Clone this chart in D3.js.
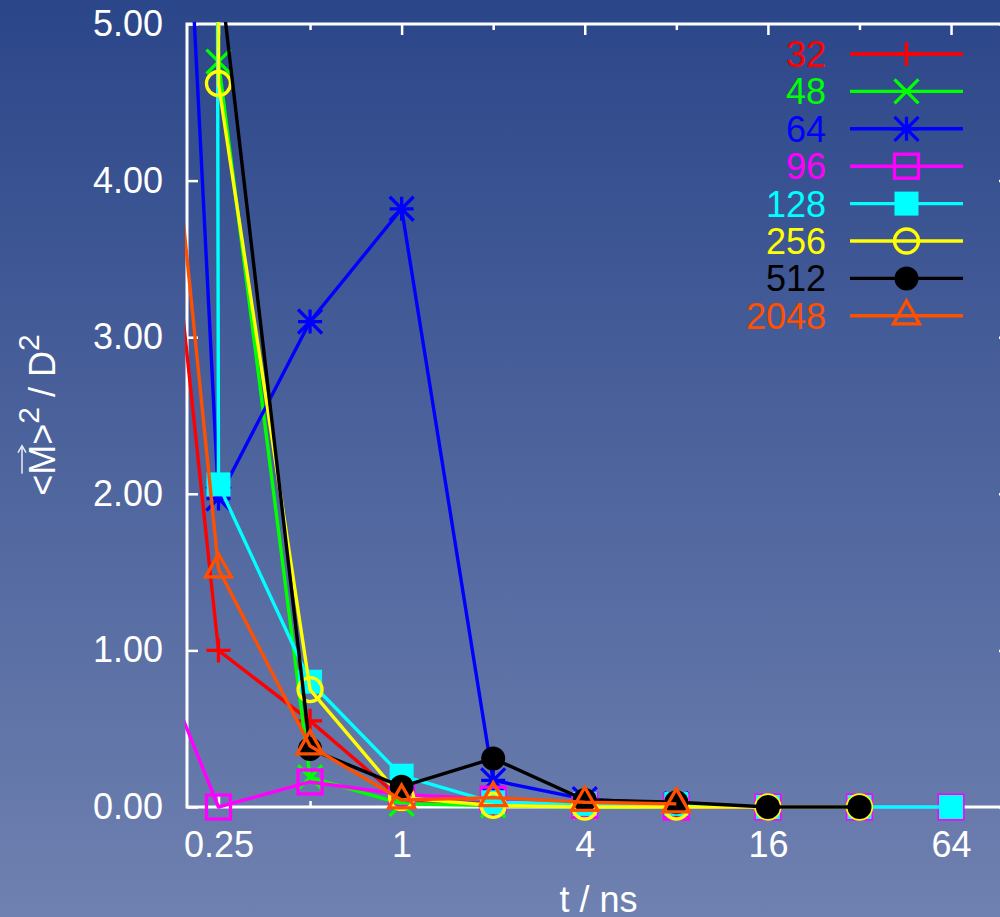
<!DOCTYPE html>
<html>
<head>
<meta charset="utf-8">
<script src="https://cdn.jsdelivr.net/npm/d3@7"></script>
<style>
  html, body { margin: 0; padding: 0; background: #2c488a; }
  svg { display: block; }
  text { font-family: "Liberation Sans", Arial, Helvetica, sans-serif; }
</style>
</head>
<body>
<svg id="chart" width="1000" height="917"></svg>
<script>
// Sampling times (ns); the first point lies left of the visible range
const times = [0.125, 0.25, 0.5, 1, 2, 4, 8, 16, 32, 64];

// <M>^2 / D^2 for each system size
const seriesNames = ["32", "48", "64", "96", "128", "256", "512", "2048"];
const v32   = [6.5, 1.00, 0.55, 0.05, 0.02, 0.01, 0.00];
const v48   = [900, 4.76, 0.19, 0.02, 0.01, 0.00, 0.00];
const v64   = [13.5, 1.97, 3.10, 3.82, 0.17, 0.05, 0.02];
const v96   = [1.45, 0.00, 0.16, 0.08, 0.05, 0.01, 0.00, 0.00, 0.00, 0.00];
const v128  = [300, 2.06, 0.80, 0.20, 0.03, 0.02, 0.02, 0.00, 0.00, 0.00];
const v256  = [1500, 4.62, 0.75, 0.06, 0.01, 0.00, 0.00, 0.00, 0.00];
const v512  = [1500, 5.40, 0.37, 0.13, 0.31, 0.045, 0.03, 0.00, 0.00];
const v2048 = [7.3, 1.52, 0.39, 0.045, 0.06, 0.03, 0.02];
const seriesValues = [v32, v48, v64, v96, v128, v256, v512, v2048];

const seriesColors = ["#ff0000", "#00ff00", "#0000ff", "#ff00ff", "#00ffff", "#ffff00", "#000000", "#ff5000"];
const seriesSymbols = ["plus", "cross", "star", "square", "squareFilled", "circle", "circleFilled", "triangle"];

// Axis ticks
const xMajorTicks = [0.25, 1, 4, 16, 64];
const xMajorLabels = ["0.25", "1", "4", "16", "64"];
const xMinorTicks = [0.5, 2, 8, 32];
const yTicks = [0, 1, 2, 3, 4, 5];
const yTickLabels = ["0.00", "1.00", "2.00", "3.00", "4.00", "5.00"];

const W = 1000, H = 917;
const plot = { left: 187, right: 1010, top: 24, bottom: 807 };

const svg = d3.select("#chart");

// Background gradient
const defs = svg.append("defs");
const grad = defs.append("linearGradient")
  .attr("id", "bg").attr("x1", 0).attr("y1", 0).attr("x2", 0).attr("y2", 1);
grad.append("stop").attr("offset", "0%").attr("stop-color", "#2b4689");
grad.append("stop").attr("offset", "100%").attr("stop-color", "#6f81b0");
svg.append("rect").attr("width", W).attr("height", H).attr("fill", "url(#bg)");

defs.append("clipPath").attr("id", "plotClip")
  .append("rect")
  .attr("x", plot.left - 2).attr("y", plot.top - 2)
  .attr("width", plot.right - plot.left + 4).attr("height", plot.bottom - plot.top + 4);

const x = d3.scaleLog().base(2).domain([0.2, 100]).range([plot.left + 2, plot.right]);
const y = d3.scaleLinear().domain([0, 5]).range([plot.bottom, plot.top]);

// Axes with inward ticks
function styleAxis(g) {
  g.select(".domain").remove();
  g.selectAll(".tick line").attr("stroke", "#ffffff").attr("stroke-width", 2.5);
  g.selectAll(".tick text").attr("fill", "#ffffff").attr("font-size", 36)
    .attr("font-family", "'Liberation Sans', Arial, sans-serif");
}

svg.append("g").attr("transform", `translate(0,${plot.bottom})`)
  .call(d3.axisBottom(x).tickValues(xMajorTicks).tickSize(-11).tickPadding(24)
    .tickFormat((d, i) => xMajorLabels[i]))
  .call(styleAxis);
svg.append("g").attr("transform", `translate(0,${plot.bottom})`)
  .call(d3.axisBottom(x).tickValues(xMinorTicks).tickSize(-6).tickFormat(""))
  .call(styleAxis);
svg.append("g").attr("transform", `translate(0,${plot.top})`)
  .call(d3.axisTop(x).tickValues(xMajorTicks).tickSize(-11).tickFormat(""))
  .call(styleAxis);
svg.append("g").attr("transform", `translate(0,${plot.top})`)
  .call(d3.axisTop(x).tickValues(xMinorTicks).tickSize(-6).tickFormat(""))
  .call(styleAxis);
svg.append("g").attr("transform", `translate(${plot.left},0)`)
  .call(d3.axisLeft(y).tickValues(yTicks).tickSize(-11).tickPadding(24)
    .tickFormat((d, i) => yTickLabels[i]))
  .call(styleAxis);
svg.append("g").attr("transform", `translate(${plot.right},0)`)
  .call(d3.axisRight(y).tickValues(yTicks).tickSize(-11).tickFormat(""))
  .call(styleAxis);

// Border
svg.append("rect")
  .attr("x", plot.left).attr("y", plot.top)
  .attr("width", plot.right - plot.left).attr("height", plot.bottom - plot.top)
  .attr("fill", "none").attr("stroke", "#ffffff").attr("stroke-width", 3);

// Point symbols
function drawSymbol(g, kind, cx, cy, color) {
  const s = 12;
  const sw = 3.3;
  switch (kind) {
    case "plus":
      g.append("path").attr("d", `M${cx - s},${cy}H${cx + s}M${cx},${cy - s}V${cy + s}`)
        .attr("stroke", color).attr("stroke-width", sw).attr("fill", "none");
      break;
    case "cross":
      g.append("path").attr("d", `M${cx - s},${cy - s}L${cx + s},${cy + s}M${cx - s},${cy + s}L${cx + s},${cy - s}`)
        .attr("stroke", color).attr("stroke-width", sw).attr("fill", "none");
      break;
    case "star":
      g.append("path").attr("d",
        `M${cx - s},${cy}H${cx + s}M${cx},${cy - s}V${cy + s}` +
        `M${cx - s},${cy - s}L${cx + s},${cy + s}M${cx - s},${cy + s}L${cx + s},${cy - s}`)
        .attr("stroke", color).attr("stroke-width", sw).attr("fill", "none");
      break;
    case "square":
      g.append("rect").attr("x", cx - s).attr("y", cy - s).attr("width", 2 * s).attr("height", 2 * s)
        .attr("stroke", color).attr("stroke-width", sw).attr("fill", "none");
      break;
    case "squareFilled":
      g.append("rect").attr("x", cx - s).attr("y", cy - s).attr("width", 2 * s).attr("height", 2 * s)
        .attr("fill", color);
      break;
    case "circle":
      g.append("circle").attr("cx", cx).attr("cy", cy).attr("r", s)
        .attr("stroke", color).attr("stroke-width", sw).attr("fill", "none");
      break;
    case "circleFilled":
      g.append("circle").attr("cx", cx).attr("cy", cy).attr("r", s).attr("fill", color);
      break;
    case "triangle":
      g.append("path").attr("d", `M${cx},${cy - 15}L${cx + 13},${cy + 8}L${cx - 13},${cy + 8}Z`)
        .attr("stroke", color).attr("stroke-width", sw).attr("fill", "none")
        .attr("stroke-linejoin", "miter");
      break;
  }
}

// Series: line then points
const line = d3.line().x(d => x(d.t)).y(d => y(d.v));
const [xd0, xd1] = x.domain();
const [yd0, yd1] = y.domain();

seriesValues.forEach((vals, i) => {
  const pts = vals.map((v, j) => ({ t: times[j], v }));
  const g = svg.append("g");
  g.append("path")
    .datum(pts)
    .attr("d", line)
    .attr("clip-path", "url(#plotClip)")
    .attr("fill", "none")
    .attr("stroke", seriesColors[i])
    .attr("stroke-width", 3.4)
    .attr("stroke-linejoin", "round");
  pts.filter(p => p.t >= xd0 && p.t <= xd1 && p.v >= yd0 && p.v <= yd1)
    .forEach(p => drawSymbol(g, seriesSymbols[i], x(p.t), y(p.v), seriesColors[i]));
});

// Legend
const legend = { textRight: 826, lineStart: 850, lineEnd: 963, top: 54, step: 37.4 };
seriesNames.forEach((name, i) => {
  const ly = legend.top + i * legend.step;
  const g = svg.append("g");
  g.append("text")
    .attr("x", legend.textRight).attr("y", ly)
    .attr("dy", "0.36em")
    .attr("text-anchor", "end")
    .attr("font-size", 36)
    .attr("fill", seriesColors[i])
    .text(name);
  g.append("line")
    .attr("x1", legend.lineStart).attr("x2", legend.lineEnd)
    .attr("y1", ly).attr("y2", ly)
    .attr("stroke", seriesColors[i]).attr("stroke-width", 3.4);
  drawSymbol(g, seriesSymbols[i], (legend.lineStart + legend.lineEnd) / 2, ly, seriesColors[i]);
});

// Axis titles
svg.append("text")
  .attr("x", (plot.left + plot.right) / 2).attr("y", 912)
  .attr("text-anchor", "middle")
  .attr("font-size", 36).attr("fill", "#ffffff")
  .text("t / ns");

const yTitle = svg.append("g").attr("transform", "translate(55,415) rotate(-90)");
const yt = yTitle.append("text")
  .attr("text-anchor", "middle")
  .attr("font-size", 36).attr("fill", "#ffffff");
yt.append("tspan").text("<M>");
yt.append("tspan").attr("dy", -16).attr("font-size", 30).text("2");
yt.append("tspan").attr("dy", 16).attr("font-size", 36).text(" / D");
yt.append("tspan").attr("dy", -16).attr("font-size", 30).text("2");

// Vector arrow above the M
const mBox = yt.node().getExtentOfChar(1);
const ay = -33;
const ax0 = mBox.x + 1, ax1 = mBox.x + mBox.width - 1;
yTitle.append("path")
  .attr("d", `M${ax0},${ay}H${ax1}M${ax1 - 7},${ay - 4}L${ax1},${ay}L${ax1 - 7},${ay + 4}`)
  .attr("stroke", "#e8ecf6").attr("stroke-width", 1.5).attr("fill", "none");
</script>
</body>
</html>
